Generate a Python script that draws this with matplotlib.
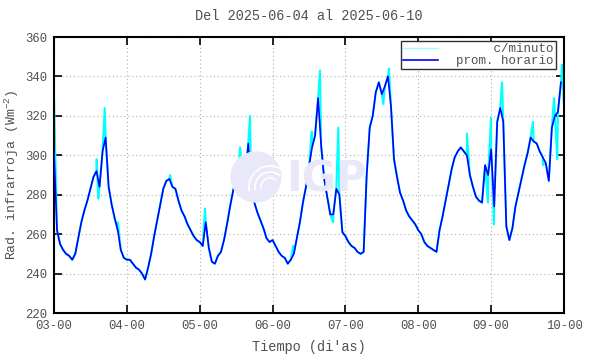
import numpy as np
import matplotlib
matplotlib.use("Agg")
import matplotlib.pyplot as plt
from matplotlib.patches import Ellipse, Arc

plt.rcParams['font.family'] = ['Liberation Mono', 'DejaVu Sans Mono']
plt.rcParams['mathtext.default'] = 'regular'

# hourly means, one list per day (03 .. 09), 24 values each
d3 = [301, 262, 255, 252, 250, 249, 247, 250, 258, 266, 272, 277, 283, 289, 292, 284, 302, 309, 284, 275, 268, 262, 252, 248]
d4 = [247, 247, 245, 243, 242, 240, 237, 243, 250, 259, 267, 275, 283, 287, 288, 284, 283, 277, 272, 269, 265, 262, 259, 257]
d5 = [256, 254, 266, 253, 246, 245, 249, 251, 257, 265, 274, 282, 289, 297, 294, 290, 306, 281, 276, 271, 267, 263, 258, 256]
d6 = [257, 254, 251, 249, 248, 245, 247, 250, 258, 266, 276, 284, 294, 304, 310, 329, 305, 288, 279, 270, 270, 283, 280, 261]
d7 = [259, 256, 254, 253, 251, 250, 251, 290, 314, 320, 332, 337, 331, 335, 340, 325, 298, 289, 281, 277, 272, 269, 267, 265]
d8 = [262, 260, 256, 254, 253, 252, 251, 262, 269, 277, 285, 293, 299, 302, 304, 302, 300, 290, 284, 279, 277, 276, 295, 290]
d9 = [303, 274, 317, 324, 317, 264, 257, 263, 274, 281, 288, 295, 301, 309, 307, 306, 302, 299, 296, 287, 314, 320, 322, 337]

# minute data: spikes where it leaves the hourly curve (day, value)
spike_days = [3.000, 3.586, 3.608, 3.696, 3.878, 4.592, 5.072, 5.553, 5.621, 5.690,
              6.284, 6.537, 6.651, 6.833, 6.902, 7.520, 7.598, 8.668, 8.957, 8.998,
              9.039, 9.149, 9.574, 9.712, 9.863, 9.908, 9.972, 9.999]
spike_vals = [328, 298, 278, 324, 266, 290, 273, 304, 284, 320,
              254, 312, 343, 266, 314, 326, 344, 311, 276, 319,
              265, 337, 317, 295, 329, 298, 346, 326]

tick_days = [3, 4, 5, 6, 7, 8, 9, 10]
tick_labels = ['03-00', '04-00', '05-00', '06-00', '07-00', '08-00', '09-00', '10-00']

hourly = np.array(d3 + d4 + d5 + d6 + d7 + d8 + d9, dtype=float)
t_hour = 3 + np.arange(len(hourly)) / 24.0

t_min = np.concatenate([t_hour, spike_days])
v_min = np.concatenate([hourly, spike_vals])
order = np.argsort(t_min, kind='stable')
t_min, v_min = t_min[order], v_min[order]

txt = '#505050'
fig = plt.figure(figsize=(5.9, 3.54), dpi=100)
ax = fig.add_axes([54 / 590, 41 / 354, 510 / 590, 276 / 354])

# faint IGP watermark
wm = '#e8e8f8'
cx, cy = 256 / 590, 1 - 177 / 354
fig.patches.append(Ellipse((cx, cy), 50 / 590, 50 / 354,
                           transform=fig.transFigure, color=wm, zorder=0))
for r in (18, 30, 42):
    fig.patches.append(Arc((cx + 14 / 590, cy - 10 / 354), r / 590, r / 354, theta1=60, theta2=200,
                           transform=fig.transFigure, color='white', lw=1.2, zorder=0))
fig.text(286 / 590, 1 - 180 / 354, 'IGP', color=wm, fontsize=30,
         fontweight='bold', family='DejaVu Sans', va='center', ha='left', zorder=0)
ax.patch.set_alpha(0)

ax.plot(t_min, v_min, color='#00ffff', lw=1.5, label='     c/minuto', zorder=2)
ax.plot(t_hour, hourly, color='#0000ff', lw=1.2, label='prom. horario', zorder=3)

ax.set_xlim(3, 10)
ax.set_ylim(220, 360)
ax.set_xticks(tick_days)
ax.set_xticklabels(tick_labels)
ax.set_yticks(np.arange(220, 361, 20))
ax.grid(True, color='#b0b0b0', lw=0.8, linestyle=(0, (1, 2.5)))
ax.tick_params(direction='in', top=True, right=True, length=6, width=1.2,
               labelsize=8.8, labelcolor=txt, pad=5)
for s in ax.spines.values():
    s.set_linewidth(1.5)
    s.set_color('black')

ax.set_title('Del 2025-06-04 al 2025-06-10', fontsize=9.8, color=txt, pad=12)
ax.set_xlabel("Tiempo (di'as)", fontsize=9.8, color=txt, labelpad=6)
ax.set_ylabel('Rad. infrarroja (Wm$^{-2}$)', fontsize=9.5, color=txt)
ax.yaxis.set_label_coords(-33 / 510, 0.5)

leg = ax.legend(loc='upper right', bbox_to_anchor=(0.984, 0.985), borderaxespad=0,
                fancybox=False, edgecolor='#303030', framealpha=1, fontsize=9,
                handlelength=2.8, labelspacing=0.0, borderpad=0.15, handletextpad=1.5)
leg.get_frame().set_linewidth(1.0)
leg.get_lines()[0].set_color('#a0ffff')
leg.get_lines()[0].set_linewidth(1.0)
for t in leg.get_texts():
    t.set_color(txt)

fig.savefig('out.png', dpi=100)
